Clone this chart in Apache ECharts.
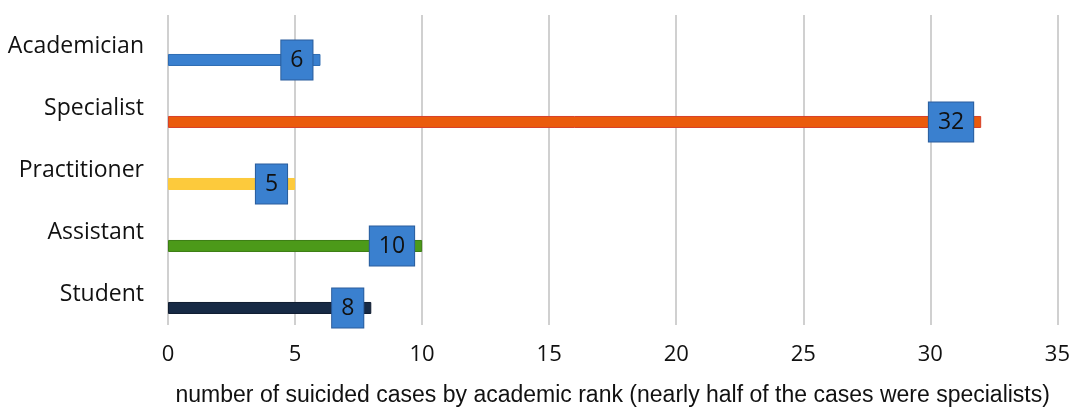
<!DOCTYPE html>
<html>
<head>
<meta charset="utf-8">
<script src="https://cdn.jsdelivr.net/npm/echarts@6/dist/echarts.min.js"></script>
<style>html,body{margin:0;padding:0;background:#fff;}#c{width:1073px;height:412px;}</style>
</head>
<body>
<div id="c"></div>
<script>
const categories = ['Academician', 'Specialist', 'Practitioner', 'Assistant', 'Student'];
const values = [6, 32, 5, 10, 8];
const barColors = ['#3a80cf', '#ea5b0c', '#fdca3c', '#4c9a19', '#172a45'];
const borderColors = ['#2f6cb3', '#d8402a', '#fdca3c', '#3c7e14', '#0f1c30'];
const xTicks = [0, 5, 10, 15, 20, 25, 30, 35];
const axisTitle = 'number of suicided cases by academic rank (nearly half of the cases were specialists)';

const chart = echarts.init(document.getElementById('c'));
chart.setOption({
  animation: false,
  grid: { left: 168, right: 12, top: 15, bottom: 86 },
  xAxis: {
    type: 'value', min: xTicks[0], max: xTicks[xTicks.length - 1], interval: 5,
    axisLine: { show: false }, axisTick: { show: false },
    splitLine: { lineStyle: { color: '#d0d0d0', width: 2 } },
    axisLabel: { fontFamily: 'Open Sans', fontSize: 22, color: '#111', margin: 19 },
    name: axisTitle, nameLocation: 'middle', nameGap: 59,
    nameTextStyle: { fontFamily: 'Liberation Sans', fontSize: 23, color: '#111' }
  },
  yAxis: {
    type: 'category', data: categories, inverse: true,
    axisLine: { show: false }, axisTick: { show: false },
    axisLabel: { fontFamily: 'Open Sans', fontSize: 23, color: '#111', margin: 24 }
  },
  series: [
    { type: 'bar', data: categories.map(() => '-'), barWidth: 12, barGap: '133%', silent: true },
    {
      type: 'bar', barWidth: 12, barGap: '133%',
      data: values.map((v, i) => ({
        value: v,
        itemStyle: { color: barColors[i], borderColor: borderColors[i], borderWidth: 1 }
      })),
      label: {
        show: true, position: 'insideRight', distance: 8,
        fontFamily: 'Open Sans', fontSize: 23, color: '#111',
        backgroundColor: '#3a80cf', borderColor: '#2a5d9c', borderWidth: 1,
        padding: [8, 9, 8, 9]
      }
    }
  ]
});
</script>
</body>
</html>
